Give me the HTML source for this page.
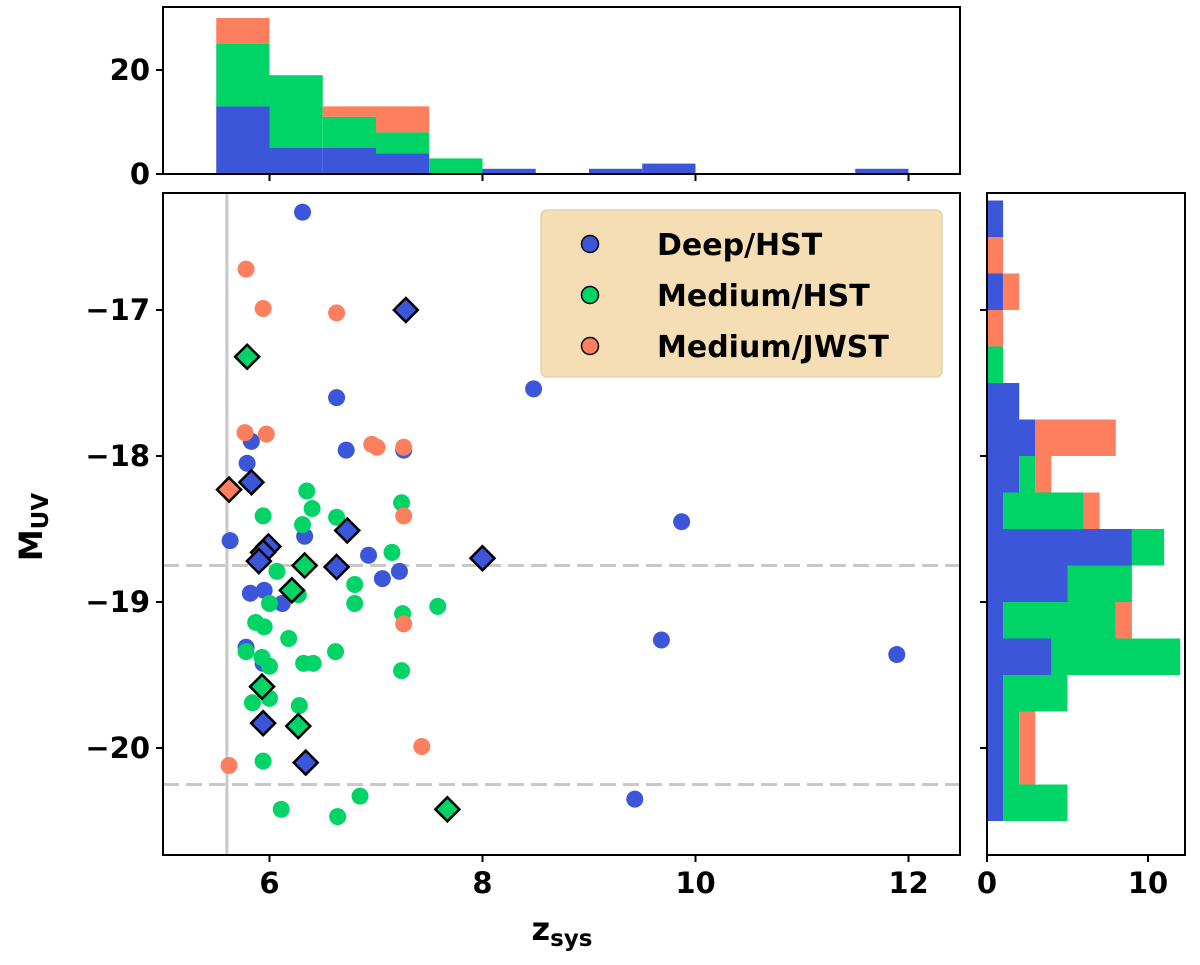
<!DOCTYPE html>
<html><head><meta charset="utf-8"><style>
body{margin:0;background:#fff;}
svg text{font-family:"DejaVu Sans","Liberation Sans",sans-serif;font-weight:bold;}
</style></head><body>
<svg id="c" width="1200" height="960" xmlns="http://www.w3.org/2000/svg"></svg>
<script>
// ---- data ----
const deepZ=[6.31,6.63,8.48,6.72,7.26,5.83,5.79,5.63,6.33,6.93,7.06,7.22,5.82,5.95,6.12,5.78,5.94,9.87,9.68,11.89,9.43];
const deepM=[-16.33,-17.60,-17.54,-17.96,-17.96,-17.90,-18.05,-18.58,-18.55,-18.68,-18.84,-18.79,-18.94,-18.92,-19.01,-19.31,-19.42,-18.45,-19.26,-19.36,-20.35];
const medZ=[6.35,6.40,5.94,6.31,6.63,7.24,7.15,6.07,6.80,6.27,6.00,6.80,7.58,7.25,5.87,5.95,6.18,5.78,6.62,5.93,6.00,6.32,6.41,7.24,6.00,5.84,6.28,5.94,6.85,6.11,6.64];
const medM=[-18.24,-18.36,-18.41,-18.47,-18.42,-18.32,-18.66,-18.79,-18.88,-18.95,-19.01,-19.01,-19.03,-19.08,-19.14,-19.17,-19.25,-19.34,-19.34,-19.38,-19.44,-19.42,-19.42,-19.47,-19.66,-19.69,-19.71,-20.09,-20.33,-20.42,-20.47];
const jwstZ=[5.78,5.94,6.63,5.77,5.97,6.96,7.01,7.26,7.26,7.43,5.62,7.26];
const jwstM=[-16.72,-16.99,-17.02,-17.84,-17.85,-17.92,-17.94,-17.94,-18.41,-19.99,-20.12,-19.15];
const deepDZ=[7.28,5.83,6.73,5.99,5.94,5.90,6.63,8.00,5.94,6.34];
const deepDM=[-17.00,-18.18,-18.51,-18.62,-18.66,-18.72,-18.76,-18.70,-19.83,-20.10];
const medDZ=[5.79,6.33,6.21,5.93,6.27,7.67];
const medDM=[-17.32,-18.75,-18.92,-19.58,-19.85,-20.42];
const jwstDZ=[5.62];
const jwstDM=[-18.23];
// top histogram (z bins, width 0.5 from 5.5)
const zBins=[5.5,6.0,6.5,7.0,7.5,8.0,8.5,9.0,9.5,10.0,10.5,11.0,11.5];
const zHistDeep=[13,5,5,4,0,1,0,1,2,0,0,0,1];
const zHistMed=[12,14,6,4,3,0,0,0,0,0,0,0,0];
const zHistJwst=[5,0,2,5,0,0,0,0,0,0,0,0,0];
// right histogram (M bins, width 0.25 from -16.25 downward)
const mBins=[-16.25,-16.5,-16.75,-17.0,-17.25,-17.5,-17.75,-18.0,-18.25,-18.5,-18.75,-19.0,-19.25,-19.5,-19.75,-20.0,-20.25];
const mHistDeep=[1,0,1,0,0,2,3,2,1,9,5,1,4,1,1,1,1];
const mHistMed=[0,0,0,0,1,0,0,1,5,2,4,7,8,4,1,1,4];
const mHistJwst=[0,1,1,1,0,0,5,1,1,0,0,1,0,0,1,1,0];
const xTicks=[6,8,10,12];
const yTicks=[-17,-18,-19,-20];

const BLUE="#3b56d8",GREEN="#00d466",ORANGE="#fe7f5d";
const NS="http://www.w3.org/2000/svg";
const svg=document.getElementById('c');
function mk(tag,attrs,parent){const e=document.createElementNS(NS,tag);for(const k in attrs)e.setAttribute(k,attrs[k]);(parent||svg).appendChild(e);return e;}
const X=z=>163+(z-5)*106.5;
const Y=m=>310-(m+17)*146;
const HY=c=>174-c*5.2;
const HX=c=>987+c*16.1;
const FS=29;

const g=mk('g',{});


let r=mk('line',{x1:X(5.6),x2:X(5.6),y1:193,y2:855,stroke:'#c8c8c8','stroke-width':3},g);


[-18.75,-20.25].forEach(m=>{const l=mk('line',{x1:163,x2:960,y1:Y(m),y2:Y(m),stroke:'#c8c8c8','stroke-width':3,'stroke-dasharray':'16,7'},g);

});

function circles(zs,ms,col,name){zs.forEach((z,i)=>{const c=mk('circle',{cx:X(z),cy:Y(ms[i]),r:8.5,fill:col},g);

});}
function diamonds(zs,ms,col,name){zs.forEach((z,i)=>{const x=X(z),y=Y(ms[i]),s=12;const p=mk('polygon',{points:`${x},${y-s} ${x+s},${y} ${x},${y+s} ${x-s},${y}`,fill:col,stroke:'#000','stroke-width':2.5},g);

});}
circles(deepZ,deepM,BLUE,'deep-hst-point');
circles(medZ,medM,GREEN,'medium-hst-point');
circles(jwstZ,jwstM,ORANGE,'medium-jwst-point');
diamonds(deepDZ,deepDM,BLUE,'deep-hst-diamond');
diamonds(medDZ,medDM,GREEN,'medium-hst-diamond');
diamonds(jwstDZ,jwstDM,ORANGE,'medium-jwst-diamond');

let fr=mk('rect',{x:163,y:193,width:797,height:662,fill:'none',stroke:'#000','stroke-width':2});


xTicks.forEach(t=>{mk('line',{x1:X(t),x2:X(t),y1:855,y2:862,stroke:'#000','stroke-width':2});
const tx=mk('text',{x:X(t),y:893,'text-anchor':'middle','font-size':FS});tx.textContent=t;

});
yTicks.forEach(t=>{mk('line',{x1:156,x2:163,y1:Y(t),y2:Y(t),stroke:'#000','stroke-width':2});
const tx=mk('text',{x:150,y:Y(t)+10,'text-anchor':'end','font-size':FS});tx.textContent='\u2212'+Math.abs(t);


mk('line',{x1:980,x2:987,y1:Y(t),y2:Y(t),stroke:'#000','stroke-width':2});});
let xl=mk('text',{x:562,y:940,'text-anchor':'middle','font-size':32});xl.innerHTML='z<tspan font-size="23" dy="6">sys</tspan>';


let yl=mk('text',{x:0,y:0,'text-anchor':'middle','font-size':32,transform:'translate(42,527) rotate(-90)'});yl.innerHTML='M<tspan font-size="23" dy="6">UV</tspan>';



const lg=mk('g',{});


mk('rect',{x:541,y:210,width:401,height:167,rx:6,fill:'#f5deb3',stroke:'#e0d2b0','stroke-width':1.5},lg);
[['Deep/HST',BLUE],['Medium/HST',GREEN],['Medium/JWST',ORANGE]].forEach((e,i)=>{const y=244+i*51;
const c=mk('circle',{cx:590,cy:y,r:8.5,fill:e[1],stroke:'#000','stroke-width':1.5},lg);


const t=mk('text',{x:657,y:y+11,'font-size':30},lg);t.textContent=e[0];

});

zBins.forEach((b,i)=>{let base=0;[[zHistDeep,BLUE],[zHistMed,GREEN],[zHistJwst,ORANGE]].forEach(s=>{const v=s[0][i];if(v>0){const rr=mk('rect',{x:X(b),y:HY(base+v),width:X(b+0.5)-X(b),height:HY(base)-HY(base+v),fill:s[1]});

}base+=v;});});
let tf=mk('rect',{x:163,y:7,width:797,height:167,fill:'none',stroke:'#000','stroke-width':2});


[0,20].forEach(t=>{mk('line',{x1:156,x2:163,y1:HY(t),y2:HY(t),stroke:'#000','stroke-width':2});
const tx=mk('text',{x:150,y:HY(t)+10,'text-anchor':'end','font-size':FS});tx.textContent=t;

});
xTicks.forEach(t=>mk('line',{x1:X(t),x2:X(t),y1:174,y2:181,stroke:'#000','stroke-width':2}));

mBins.forEach((b,i)=>{let base=0;[[mHistDeep,BLUE],[mHistMed,GREEN],[mHistJwst,ORANGE]].forEach(s=>{const v=s[0][i];if(v>0){const rr=mk('rect',{x:HX(base),y:Y(b),width:HX(base+v)-HX(base),height:Y(b-0.25)-Y(b),fill:s[1]});

}base+=v;});});
let rf=mk('rect',{x:987,y:193,width:198,height:662,fill:'none',stroke:'#000','stroke-width':2});


[0,10].forEach(t=>{mk('line',{x1:HX(t),x2:HX(t),y1:855,y2:862,stroke:'#000','stroke-width':2});
const tx=mk('text',{x:HX(t),y:893,'text-anchor':'middle','font-size':FS});tx.textContent=t;

});
</script>
</body></html>
